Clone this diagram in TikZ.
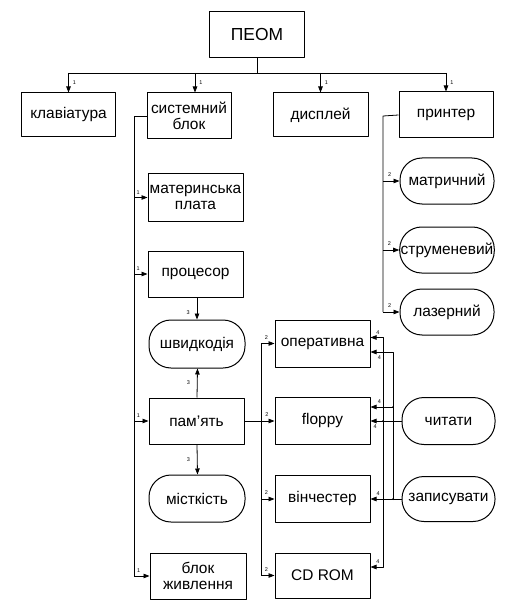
\documentclass[tikz,border=0pt]{standalone}
\usepackage{fontspec}
\setmainfont{Liberation Sans}
\usetikzlibrary{arrows.meta,calc}
\tikzset{
  blk/.style={draw, line width=1bp, minimum width=95bp, minimum height=46bp,
    inner sep=1bp, align=center, font=\fontsize{15.5}{16.5}\selectfont},
  pill/.style={blk, rounded corners=22bp},
  arr/.style={-{Triangle[length=6bp,width=4.5bp]}, line width=0.8bp},
  conn/.style={line width=0.8bp},
  num/.style={font=\fontsize{5.5}{5.5}\selectfont, inner sep=1bp}
}

\begin{document}
\begin{tikzpicture}[x=1bp, y=-1bp, line join=round]
\useasboundingbox (0,0) rectangle (510,609);

% ============ TOP LEVEL ============
\node[blk, font=\fontsize{17.5}{18}\selectfont] (peom) at (257,35) {ПЕОМ};
\node[blk, minimum width=93bp, minimum height=44bp] (klav) at (68.5,115) {клавіатура};
\node[blk, minimum width=84bp] (sys) at (189,116) {системний\\блок};
\node[blk, minimum height=44bp] (disp) at (320.5,115) {дисплей};
\node[blk, minimum width=94bp] (prnt) at (446,115) {принтер};

% bus below ПЕОМ
\coordinate (bus) at (257,73);
\draw[conn] (peom.south) -- (bus);
\draw[conn] (klav.north |- bus) -- (prnt.north |- bus);
\draw[arr] (klav.north |- bus) -- node[num, right=3bp, midway] {1} (klav.north);
\draw[arr] ([xshift=6bp]sys.north |- bus) -- node[num, right=3bp, midway] {1} ([xshift=6bp]sys.north);
\draw[arr] (disp.north |- bus) -- node[num, right=3bp, midway] {1} (disp.north);
\draw[arr] (prnt.north |- bus) -- node[num, right=3bp, midway] {1} (prnt.north);

% ============ SYSTEM UNIT ============
\node[blk, minimum height=47bp] (mat) at (195.5,197.5) {материнська\\плата};
\node[blk] (proc) at (195.5,274) {процесор};
\node[pill, minimum width=96bp, minimum height=48bp] (shv) at (197,344) {швидкодія};
\node[blk] (pam) at (196.5,421) {пам’ять};
\node[pill, minimum width=96bp, minimum height=47bp] (mist) at (197,498.5) {місткість};
\node[blk, minimum width=96bp] (bzh) at (198,576) {блок\\живлення};

\coordinate (strunk) at (134,116);
\draw[conn] (sys.west) -- (strunk) -- (strunk |- bzh.west);
\foreach \n in {mat, proc, pam, bzh}
  \draw[arr] (strunk |- \n.west) -- node[num, above=2bp, pos=0.3] {1} (\n.west);

\draw[arr] ([xshift=1.5bp]proc.south) -- node[num, left=6bp, pos=0.7] {3} (shv.north);
\draw[arr] ([xshift=0.5bp]pam.north) -- node[num, left=6bp, midway] {3} ([xshift=0.5bp]shv.south);
\draw[arr] ([xshift=0.5bp]pam.south) -- node[num, left=6bp, midway] {3} ([xshift=0.5bp]mist.north);

% ============ PRINTER TYPES ============
\node[pill, minimum width=94bp] (matr) at (447,181) {матричний};
\node[pill, minimum width=94bp] (strum) at (447,250) {струменевий};
\node[pill, minimum width=94bp] (laz) at (447,312) {лазерний};

\coordinate (ptrunk) at (383,116);
\draw[conn] (prnt.west) -- (ptrunk) -- (ptrunk |- laz.west);
\foreach \n in {matr, strum, laz}
  \draw[arr] (ptrunk |- \n.west) -- node[num, above=3bp, pos=0.4] {2} (\n.west);

% ============ MEMORY TYPES ============
\node[blk, minimum height=47bp] (oper) at (322.5,343.5) {оперативна};
\node[blk, minimum height=47bp] (flop) at (322.5,421) {floppy};
\node[blk, minimum height=47bp] (vin) at (322.5,499) {вінчестер};
\node[blk, minimum height=45bp] (cd) at (322.5,575.5) {CD ROM};

\coordinate (mtrunk) at (261,421);
\draw[arr] (pam.east) -- node[num, above=3bp, pos=0.75] {2} (flop.west);
\draw[conn] (mtrunk |- oper.west) -- (mtrunk |- cd.west);
\foreach \n in {oper, vin, cd}
  \draw[arr] (mtrunk |- \n.west) -- node[num, above=3bp, pos=0.4] {2} (\n.west);

% ============ READ / WRITE ============
\node[pill, minimum width=93bp, minimum height=47bp] (chyt) at (448.5,421) {читати};
\node[pill, minimum width=93bp, minimum height=45bp] (zap) at (448.5,499) {записувати};

% entry points on the right sides of the memory boxes
\coordinate (operR) at ([yshift=6bp]oper.east);
\coordinate (operW) at ([yshift=-8.5bp]oper.east);
\coordinate (flopW) at ([yshift=14bp]flop.east);
\coordinate (cdR) at ([yshift=8.5bp]cd.east);

\coordinate (rtrunk) at (383,421);
\coordinate (wtrunk) at (393,499);

% read: floppy direct, оперативна and CD ROM through the trunk
\draw[arr] (chyt.west) -- node[num, below=2bp, pos=0.85] {4} (flop.east);
\draw[arr] (rtrunk) -- (rtrunk |- operR) -- node[num, above=2bp, pos=0.4] {4} (operR);
\draw[arr] (rtrunk) -- (rtrunk |- cdR) -- node[num, above=2bp, pos=0.4] {4} (cdR);

% write: вінчестер direct, floppy and оперативна through the trunk
\draw[arr] (zap.west) -- node[num, above=2bp, pos=0.75] {4} (vin.east);
\draw[arr] (wtrunk) -- (wtrunk |- operW) -- node[num, below=2bp, pos=0.6] {4} (operW);
\draw[arr] (wtrunk |- flopW) -- node[num, above=2bp, pos=0.6] {4} (flopW);

\fill (rtrunk) circle (1bp);
\fill (wtrunk) circle (1bp);
\fill (wtrunk |- flopW) circle (0.8bp);
\end{tikzpicture}
\end{document}
